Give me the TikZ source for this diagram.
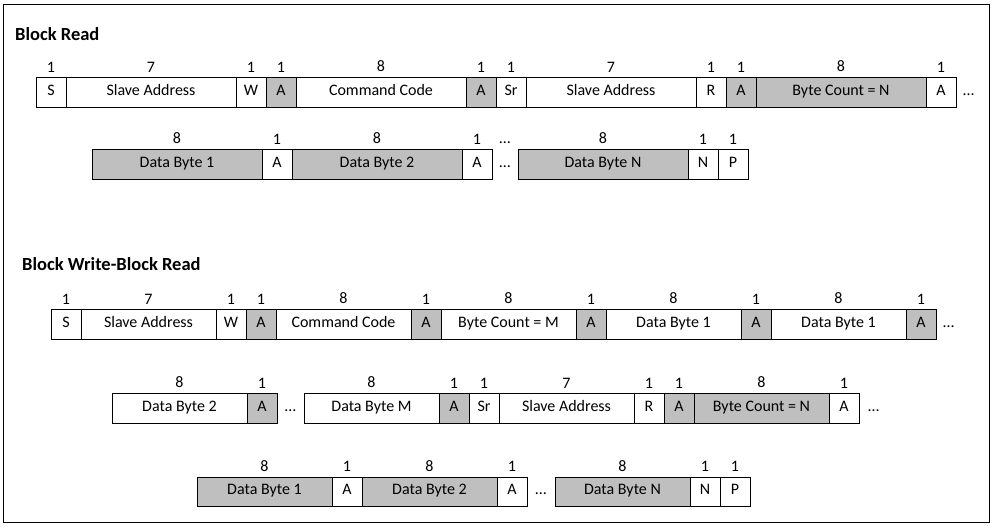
\documentclass[tikz,border=0pt]{standalone}
\usepackage{fontspec}
\setmainfont{Carlito}
\usepackage{tikz}
\usetikzlibrary{positioning}
\definecolor{slavegray}{RGB}{191,191,191}
\tikzstyle{mfield} = [draw=black, fill=white, line width=0.8pt,
    rectangle, minimum height=29.5pt, inner sep=0pt, outer sep=0pt,
    text height=1.5ex, text depth=.25ex,
    font=\fontsize{16}{19}\selectfont]
\tikzstyle{sfield} = [mfield, fill=slavegray]
\tikzstyle{onebit} = [minimum width=30pt]
\tikzstyle{longfield} = [minimum width=170pt]
\tikzstyle{shortfield} = [minimum width=135pt]
\tikzstyle{gapdots} = [inner sep=0pt, outer sep=0pt, text height=1.5ex,
    text depth=.25ex, font=\fontsize{16}{19}\selectfont]
\tikzstyle{bitnum} = [inner sep=0pt, yshift=5.5pt, font=\fontsize{16}{19}\selectfont]
\tikzstyle{blocktitle} = [anchor=west, inner sep=0pt, font=\bfseries\fontsize{18.5}{22}\selectfont]
\tikzset{bits/.style={label={[bitnum]above:#1}}}

\begin{document}
\begin{tikzpicture}[x=1pt, y=-1pt]
    \useasboundingbox (0,0) rectangle (997,530);
    \draw[line width=0.8pt] (3,4) rectangle (989,522);

    % Block Read
    \node[blocktitle] (brtitle) at (15,34) {Block Read};
    \node[mfield, onebit, bits=1, anchor=west] (r1s) at (36,92.5) {S};
    \node[mfield, longfield, bits=7, right=0pt of r1s] (r1addr) {Slave Address};
    \node[mfield, onebit, bits=1, right=0pt of r1addr] (r1w) {W};
    \node[sfield, onebit, bits=1, right=0pt of r1w] (r1acka) {A};
    \node[mfield, longfield, bits=8, right=0pt of r1acka] (r1cmd) {Command Code};
    \node[sfield, onebit, bits=1, right=0pt of r1cmd] (r1ackb) {A};
    \node[mfield, onebit, bits=1, right=0pt of r1ackb] (r1sr) {Sr};
    \node[mfield, longfield, bits=7, right=0pt of r1sr] (r1raddr) {Slave Address};
    \node[mfield, onebit, bits=1, right=0pt of r1raddr] (r1r) {R};
    \node[sfield, onebit, bits=1, right=0pt of r1r] (r1ackc) {A};
    \node[sfield, longfield, bits=8, right=0pt of r1ackc] (r1count) {Byte Count = N};
    \node[mfield, onebit, bits=1, right=0pt of r1count] (r1ackd) {A};
    \node[gapdots, right=7pt of r1ackd] (r1more) {\dots};

    \node[sfield, longfield, bits=8, anchor=west] (r2data1) at (92,164.5) {Data Byte 1};
    \node[mfield, onebit, bits=1, right=0pt of r2data1] (r2acka) {A};
    \node[sfield, longfield, bits=8, right=0pt of r2acka] (r2data2) {Data Byte 2};
    \node[mfield, onebit, bits=1, right=0pt of r2data2] (r2ackb) {A};
    \node[gapdots, minimum width=26pt, minimum height=29.5pt, bits=\dots, right=0pt of r2ackb] (r2gap) {\dots};
    \node[sfield, longfield, bits=8, right=0pt of r2gap] (r2datan) {Data Byte N};
    \node[mfield, onebit, bits=1, right=0pt of r2datan] (r2nack) {N};
    \node[mfield, onebit, bits=1, right=0pt of r2nack] (r2stop) {P};

    % Block Write-Block Read
    \node[blocktitle] (bwtitle) at (22,264) {Block Write-Block Read};
    \node[mfield, onebit, bits=1, anchor=west] (r3s) at (51,324.5) {S};
    \node[mfield, shortfield, bits=7, right=0pt of r3s] (r3addr) {Slave Address};
    \node[mfield, onebit, bits=1, right=0pt of r3addr] (r3w) {W};
    \node[sfield, onebit, bits=1, right=0pt of r3w] (r3acka) {A};
    \node[mfield, shortfield, bits=8, right=0pt of r3acka] (r3cmd) {Command Code};
    \node[sfield, onebit, bits=1, right=0pt of r3cmd] (r3ackb) {A};
    \node[mfield, shortfield, bits=8, right=0pt of r3ackb] (r3count) {Byte Count = M};
    \node[sfield, onebit, bits=1, right=0pt of r3count] (r3ackc) {A};
    \node[mfield, shortfield, bits=8, right=0pt of r3ackc] (r3data1) {Data Byte 1};
    \node[sfield, onebit, bits=1, right=0pt of r3data1] (r3ackd) {A};
    \node[mfield, shortfield, bits=8, right=0pt of r3ackd] (r3data1b) {Data Byte 1};
    \node[sfield, onebit, bits=1, right=0pt of r3data1b] (r3acke) {A};
    \node[gapdots, right=7pt of r3acke] (r3more) {\dots};

    \node[mfield, shortfield, bits=8, anchor=west] (r4data2) at (112,408.5) {Data Byte 2};
    \node[sfield, onebit, bits=1, right=0pt of r4data2] (r4acka) {A};
    \node[gapdots, minimum width=27pt, right=0pt of r4acka] (r4gap) {\dots};
    \node[mfield, shortfield, bits=8, right=0pt of r4gap] (r4datam) {Data Byte M};
    \node[sfield, onebit, bits=1, right=0pt of r4datam] (r4ackb) {A};
    \node[mfield, onebit, bits=1, right=0pt of r4ackb] (r4sr) {Sr};
    \node[mfield, shortfield, bits=7, right=0pt of r4sr] (r4raddr) {Slave Address};
    \node[mfield, onebit, bits=1, right=0pt of r4raddr] (r4r) {R};
    \node[sfield, onebit, bits=1, right=0pt of r4r] (r4ackc) {A};
    \node[sfield, shortfield, bits=8, right=0pt of r4ackc] (r4count) {Byte Count = N};
    \node[mfield, onebit, bits=1, right=0pt of r4count] (r4ackd) {A};
    \node[gapdots, right=9pt of r4ackd] (r4more) {\dots};

    \node[sfield, shortfield, bits=8, anchor=west] (r5data1) at (197,492) {Data Byte 1};
    \node[mfield, onebit, bits=1, right=0pt of r5data1] (r5acka) {A};
    \node[sfield, shortfield, bits=8, right=0pt of r5acka] (r5data2) {Data Byte 2};
    \node[mfield, onebit, bits=1, right=0pt of r5data2] (r5ackb) {A};
    \node[gapdots, minimum width=28pt, right=0pt of r5ackb] (r5gap) {\dots};
    \node[sfield, shortfield, bits=8, right=0pt of r5gap] (r5datan) {Data Byte N};
    \node[mfield, onebit, bits=1, right=0pt of r5datan] (r5nack) {N};
    \node[mfield, onebit, bits=1, right=0pt of r5nack] (r5stop) {P};
\end{tikzpicture}
\end{document}
